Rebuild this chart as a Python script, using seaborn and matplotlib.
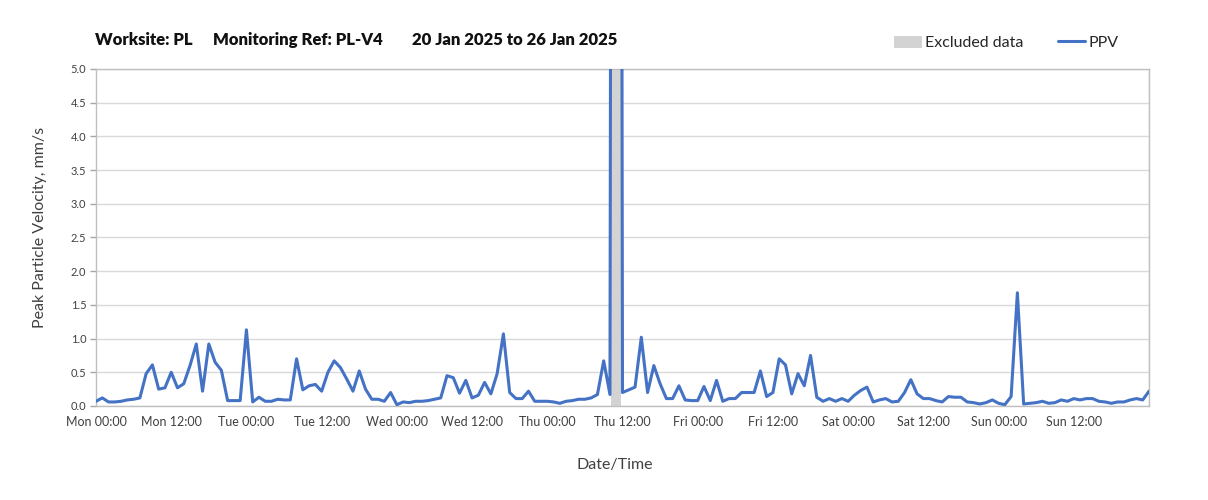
import pandas as pd
import matplotlib
matplotlib.use("Agg")
import matplotlib.pyplot as plt
import matplotlib.dates as mdates
import seaborn as sns
from matplotlib.patches import Patch
from matplotlib.lines import Line2D

# Hourly PPV readings (mm/s), Mon 20 Jan 00:00 -> Mon 27 Jan 00:00
START = "2025-01-20 00:00"
PPV_MON = [0.07, 0.12, 0.06, 0.06, 0.07, 0.09, 0.10, 0.12, 0.48, 0.61, 0.25, 0.27,
           0.50, 0.27, 0.33, 0.60, 0.92, 0.22, 0.92, 0.65, 0.53, 0.08, 0.08, 0.08]
PPV_TUE = [1.13, 0.06, 0.13, 0.07, 0.07, 0.10, 0.09, 0.09, 0.70, 0.24, 0.30, 0.32,
           0.22, 0.50, 0.67, 0.57, 0.40, 0.22, 0.52, 0.25, 0.10, 0.10, 0.07, 0.20]
PPV_WED = [0.02, 0.06, 0.05, 0.07, 0.07, 0.08, 0.10, 0.12, 0.45, 0.42, 0.19, 0.38,
           0.12, 0.16, 0.35, 0.18, 0.48, 1.07, 0.20, 0.11, 0.11, 0.22, 0.07, 0.07]
PPV_THU = [0.07, 0.06, 0.04, 0.07, 0.08, 0.10, 0.10, 0.12, 0.17, 0.67, 0.17, 60.0,
           0.20, 0.24, 0.28, 1.02, 0.20, 0.60, 0.33, 0.11, 0.11, 0.30, 0.09, 0.08]
PPV_FRI = [0.08, 0.29, 0.08, 0.38, 0.07, 0.11, 0.11, 0.20, 0.20, 0.20, 0.52, 0.14,
           0.20, 0.70, 0.61, 0.18, 0.48, 0.30, 0.75, 0.13, 0.07, 0.11, 0.07, 0.11]
PPV_SAT = [0.07, 0.16, 0.23, 0.28, 0.06, 0.09, 0.11, 0.06, 0.07, 0.20, 0.39, 0.18,
           0.11, 0.11, 0.08, 0.06, 0.14, 0.13, 0.13, 0.06, 0.05, 0.03, 0.05, 0.09]
PPV_SUN = [0.04, 0.02, 0.14, 1.68, 0.03, 0.04, 0.05, 0.07, 0.04, 0.05, 0.09, 0.07,
           0.11, 0.09, 0.11, 0.11, 0.07, 0.06, 0.04, 0.06, 0.06, 0.09, 0.11, 0.09]
PPV_END = [0.22]

# Excluded data window
EXCLUDED_START = "2025-01-23 10:10"
EXCLUDED_END = "2025-01-23 11:50"

# labelled ticks: every 12h, Mon 00:00 to Sun 12:00
TICK_COUNT = 14

LINE_BLUE = "#4472C4"
EXCL_GREY = "#D3D3D3"
GRID_GREY = "#D9D9D9"
TEXT_GREY = "#404040"


def build_df():
    ppv = PPV_MON + PPV_TUE + PPV_WED + PPV_THU + PPV_FRI + PPV_SAT + PPV_SUN + PPV_END
    times = pd.date_range(START, periods=len(ppv), freq="h")
    return pd.DataFrame({"time": times, "ppv": ppv})


def plot_ppv(df):
    sns.set_style("white")
    plt.rcParams["font.family"] = ["Lato", "DejaVu Sans"]

    fig = plt.figure(figsize=(12.08, 5.0), dpi=100)
    ax = fig.add_axes([96 / 1208, 94 / 500, 1053 / 1208, 337 / 500])

    ax.axvspan(pd.Timestamp(EXCLUDED_START), pd.Timestamp(EXCLUDED_END),
               color=EXCL_GREY, lw=0, zorder=1)
    sns.lineplot(data=df, x="time", y="ppv", color=LINE_BLUE, linewidth=2.2,
                 ax=ax, zorder=3)

    ax.set_xlim(df["time"].iloc[0], df["time"].iloc[-1])
    ax.set_ylim(0, 5.0)
    ax.set_yticks([i * 0.5 for i in range(11)])
    ax.yaxis.set_major_formatter(plt.FormatStrFormatter("%.1f"))

    # labels every 12h, gridlines only at midnight
    ax.set_xticks(pd.date_range(START, periods=TICK_COUNT, freq="12h"))
    ax.xaxis.set_major_formatter(mdates.DateFormatter("%a %H:%M"))
    ax.xaxis.set_minor_locator(mdates.DayLocator())
    ax.grid(False)
    ax.grid(True, which="minor", axis="x", color=GRID_GREY, lw=1.0, zorder=0)
    ax.grid(True, which="major", axis="y", color=GRID_GREY, lw=1.0, zorder=0)
    ax.set_axisbelow(True)

    ax.tick_params(axis="x", which="major", length=4, width=1, color="#A6A6A6",
                   labelsize=9, labelcolor=TEXT_GREY, pad=3)
    ax.tick_params(axis="x", which="minor", length=0)
    ax.tick_params(axis="y", length=4, width=1, color="#A6A6A6",
                   labelsize=8, labelcolor=TEXT_GREY, pad=3, left=True)
    for s in ax.spines.values():
        s.set_color("#BFBFBF")
        s.set_linewidth(1.0)

    ax.set_ylabel("Peak Particle Velocity, mm/s", fontsize=11.5, color=TEXT_GREY)
    ax.yaxis.set_label_coords(-0.047, 0.53)
    ax.set_xlabel("Date/Time", fontsize=11.5, color=TEXT_GREY)
    ax.xaxis.set_label_coords(0.493, -0.155)

    fig.text(95 / 1208, 1 - 40 / 500, "Worksite: PL", fontsize=12,
             fontweight="heavy", va="center", color="#111111")
    fig.text(213 / 1208, 1 - 40 / 500, "Monitoring Ref: PL-V4", fontsize=12,
             fontweight="heavy", va="center", color="#111111")
    fig.text(412 / 1208, 1 - 40 / 500, "20 Jan 2025 to 26 Jan 2025", fontsize=12,
             fontweight="heavy", va="center", color="#111111")

    excl_patch = Patch(facecolor=EXCL_GREY, edgecolor="none", label="Excluded data")
    ppv_line = Line2D([], [], color=LINE_BLUE, lw=2.2, label="PPV")
    fig.legend(handles=[excl_patch, ppv_line], loc="center left",
               bbox_to_anchor=(880 / 1208, 1 - 43 / 500), ncol=2, frameon=False,
               fontsize=11.5, handlelength=1.7, handleheight=0.8, handletextpad=0.2,
               columnspacing=2.2, labelcolor="#262626")

    fig.savefig("out.png", dpi=100)


def main():
    df = build_df()
    plot_ppv(df)


if __name__ == "__main__":
    main()
